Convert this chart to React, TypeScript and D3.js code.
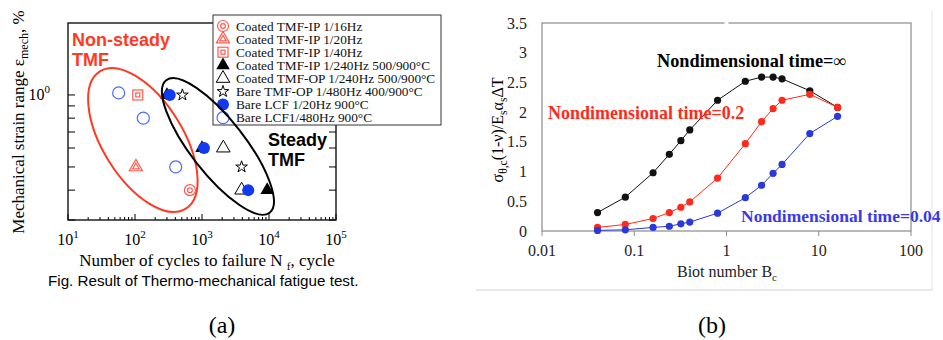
import { useEffect, useRef } from 'react';
import * as d3 from 'd3';

type Pt = [number, number];

// (a) cycles to failure vs mechanical strain range (%)
const coatedIp16: Pt[] = [[660, 0.4]];
const coatedIp20: Pt[] = [[103, 0.5]];
const coatedIp40: Pt[] = [[110, 1.0]];
const coatedIp240: Pt[] = [[300, 1.0], [1000, 0.6], [9400, 0.4]];
const coatedOp240: Pt[] = [[2080, 0.6], [3900, 0.4]];
const bareOp480: Pt[] = [[510, 1.0], [3900, 0.5]];
const bareLcf20: Pt[] = [[330, 1.0], [1070, 0.6], [4900, 0.4]];
const bareLcf480: Pt[] = [[57, 1.02], [133, 0.8], [405, 0.5]];

const cycleDecades = [10, 100, 1000, 10000, 100000];
const strainTicks = [0.3, 0.4, 0.5, 0.6, 0.7, 0.8, 0.9, 1.0];

// ellipse centres (data units)
const nonSteadyCentre: Pt = [131, 0.648];
const steadyCentre: Pt = [1730, 0.609];

// (b) Biot number vs nondimensional stress
const biot = [0.04, 0.08, 0.16, 0.24, 0.32, 0.4, 0.8, 1.6, 2.4, 3.2, 4, 8, 16];
const stressInf = [0.31, 0.57, 0.98, 1.29, 1.52, 1.7, 2.2, 2.52, 2.59, 2.59, 2.56, 2.36, 2.08];
const stress02 = [0.06, 0.11, 0.21, 0.31, 0.4, 0.49, 0.89, 1.47, 1.84, 2.06, 2.2, 2.3, 2.08];
const stress004 = [0.01, 0.02, 0.06, 0.08, 0.12, 0.15, 0.3, 0.56, 0.77, 0.97, 1.12, 1.64, 1.93];
const biotTicks = [0.01, 0.1, 1, 10, 100];
const stressTicks = [0, 0.5, 1, 1.5, 2, 2.5, 3, 3.5];

const RED = '#ff3a22';
const MRED = '#ff5a50';
const BLUE = '#1238f0';
const LBLUE = '#4c6ef0';
const SERIF = '"Liberation Serif", "Times New Roman", serif';
const SANS = '"Liberation Sans", Arial, sans-serif';

type Sel = d3.Selection<SVGGElement, unknown, null, undefined>;

function marker(g: Sel, kind: string, cx: number, cy: number) {
  const m = g.append('g').attr('transform', `translate(${cx},${cy})`);
  const tri = (size: number) => d3.symbol().type(d3.symbolTriangle).size(size)()!;
  switch (kind) {
    case 'dcircle':
      m.append('circle').attr('r', 5.5).attr('fill', 'none').attr('stroke', MRED).attr('stroke-width', 1.2);
      m.append('circle').attr('r', 2.4).attr('fill', 'none').attr('stroke', MRED).attr('stroke-width', 1.2);
      break;
    case 'dtriangle':
      m.append('path').attr('d', tri(75)).attr('fill', 'none').attr('stroke', MRED).attr('stroke-width', 1.2);
      m.append('path').attr('d', tri(18)).attr('fill', 'none').attr('stroke', MRED).attr('stroke-width', 1.2);
      break;
    case 'dsquare':
      m.append('rect').attr('x', -5).attr('y', -5).attr('width', 10).attr('height', 10)
        .attr('fill', 'none').attr('stroke', MRED).attr('stroke-width', 1.2);
      m.append('rect').attr('x', -2).attr('y', -2).attr('width', 4).attr('height', 4)
        .attr('fill', 'none').attr('stroke', MRED).attr('stroke-width', 1.2);
      break;
    case 'triFilled':
      m.append('path').attr('d', tri(80)).attr('fill', '#000');
      break;
    case 'tri':
      m.append('path').attr('d', tri(80)).attr('fill', 'none').attr('stroke', '#000').attr('stroke-width', 1);
      break;
    case 'star':
      m.append('path').attr('d', d3.symbol().type(d3.symbolStar).size(42)()!)
        .attr('fill', 'none').attr('stroke', '#000').attr('stroke-width', 1);
      break;
    case 'circFilled':
      m.append('circle').attr('r', 6).attr('fill', BLUE);
      break;
    default:
      m.append('circle').attr('r', 6).attr('fill', 'none').attr('stroke', LBLUE).attr('stroke-width', 1.2);
  }
}

export default function App() {
  const ref = useRef<SVGSVGElement>(null);

  useEffect(() => {
    if (!ref.current) return;
    const svg = d3.select(ref.current);
    svg.selectAll('*').remove();
    const root = svg.append('g') as Sel;

    // ---------------- panel (a) ----------------
    const x = d3.scaleLog().domain([10, 100000]).range([68, 336]);
    const y = d3.scaleLog().domain([0.3, 2]).range([220, 23]);
    const a = root.append('g') as Sel;

    a.append('rect').attr('x', 68).attr('y', 23).attr('width', 268).attr('height', 197)
      .attr('fill', 'none').attr('stroke', '#000').attr('stroke-width', 1.3);

    // bottom ticks (inward)
    cycleDecades.forEach((d, i) => {
      a.append('line').attr('x1', x(d)).attr('x2', x(d)).attr('y1', 220).attr('y2', 214)
        .attr('stroke', '#000');
      if (i < cycleDecades.length - 1) {
        for (let k = 2; k < 10; k++) {
          a.append('line').attr('x1', x(d * k)).attr('x2', x(d * k)).attr('y1', 220).attr('y2', 217)
            .attr('stroke', '#000');
        }
      }
      const t = a.append('text').attr('x', x(d)).attr('y', 245).attr('text-anchor', 'middle')
        .attr('font-family', SERIF).attr('font-size', 16);
      t.append('tspan').text('10');
      t.append('tspan').attr('dy', -7).attr('font-size', 11).text(String(i + 1));
    });
    strainTicks.forEach((s) => {
      a.append('line').attr('x1', 68).attr('x2', 75).attr('y1', y(s)).attr('y2', y(s)).attr('stroke', '#000');
      a.append('line').attr('x1', 336).attr('x2', 329).attr('y1', y(s)).attr('y2', y(s)).attr('stroke', '#000');
    });
    const yl = a.append('text').attr('x', 50).attr('y', y(1) + 5).attr('text-anchor', 'end')
      .attr('font-family', SERIF).attr('font-size', 16);
    yl.append('tspan').text('10');
    yl.append('tspan').attr('dy', -7).attr('font-size', 11).text('0');

    // markers
    const series: [Pt[], string][] = [
      [coatedIp240, 'triFilled'],
      [coatedOp240, 'tri'],
      [bareLcf20, 'circFilled'],
      [bareOp480, 'star'],
      [bareLcf480, 'circ'],
      [coatedIp40, 'dsquare'],
      [coatedIp20, 'dtriangle'],
      [coatedIp16, 'dcircle'],
    ];
    series.forEach(([pts, kind]) => pts.forEach(([c, s]) => marker(a, kind, x(c), y(s))));

    // legend
    const legend: [string, string][] = [
      ['dcircle', 'Coated TMF-IP 1/16Hz'],
      ['dtriangle', 'Coated TMF-IP 1/20Hz'],
      ['dsquare', 'Coated TMF-IP 1/40Hz'],
      ['triFilled', 'Coated TMF-IP 1/240Hz 500/900°C'],
      ['tri', 'Coated TMF-OP 1/240Hz 500/900°C'],
      ['star', 'Bare TMF-OP 1/480Hz 400/900°C'],
      ['circFilled', 'Bare LCF 1/20Hz 900°C'],
      ['circ', 'Bare LCF1/480Hz 900°C'],
    ];
    a.append('rect').attr('x', 213).attr('y', 15).attr('width', 228).attr('height', 110)
      .attr('fill', '#fff').attr('stroke', '#333').attr('stroke-width', 1);
    legend.forEach(([kind, label], i) => {
      const cy = 26 + i * 13.1;
      marker(a, kind, 223, cy);
      a.append('text').attr('x', 236).attr('y', cy).attr('dy', '0.35em')
        .attr('font-family', SERIF).attr('font-size', 13.3).attr('fill', '#111').text(label);
    });

    // ellipses
    a.append('ellipse').attr('rx', 81).attr('ry', 40)
      .attr('transform', `translate(${x(nonSteadyCentre[0])},${y(nonSteadyCentre[1])}) rotate(58)`)
      .attr('fill', 'none').attr('stroke', RED).attr('stroke-width', 2);
    a.append('ellipse').attr('rx', 84).attr('ry', 27)
      .attr('transform', `translate(${x(steadyCentre[0])},${y(steadyCentre[1])}) rotate(52)`)
      .attr('fill', 'none').attr('stroke', '#000').attr('stroke-width', 2);

    const bold = (t: string, px: number, py: number, fill: string) =>
      a.append('text').attr('x', px).attr('y', py).attr('font-family', SANS).attr('font-weight', 'bold')
        .attr('font-size', 18).attr('fill', fill).text(t);
    bold('Non-steady', 72, 46, RED);
    bold('TMF', 72, 66, RED);
    bold('Steady', 268, 146, '#000');
    bold('TMF', 268, 166, '#000');

    // axis titles
    const ya = a.append('text').attr('transform', 'translate(24,122) rotate(-90)').attr('text-anchor', 'middle')
      .attr('font-family', SERIF).attr('font-size', 17);
    ya.append('tspan').text('Mechanical strain range ε');
    ya.append('tspan').attr('dy', 4).attr('font-size', 12).text('mech');
    ya.append('tspan').attr('dy', -4).text(', %');

    const xa = a.append('text').attr('x', 207).attr('y', 266).attr('text-anchor', 'middle')
      .attr('font-family', SERIF).attr('font-size', 17);
    xa.append('tspan').text('Number of cycles to failure N ');
    xa.append('tspan').attr('dy', 4).attr('font-size', 11).text('f');
    xa.append('tspan').attr('dy', -4).text(', cycle');

    a.append('text').attr('x', 48).attr('y', 286).attr('font-family', SANS).attr('font-size', 15.2)
      .text('Fig. Result of Thermo-mechanical fatigue test.');
    a.append('text').attr('x', 222).attr('y', 333).attr('text-anchor', 'middle')
      .attr('font-family', SERIF).attr('font-size', 24).text('(a)');

    // ---------------- panel (b) ----------------
    const bx = d3.scaleLog().domain([0.01, 100]).range([542, 911]);
    const by = d3.scaleLinear().domain([0, 3.5]).range([231, 23]);
    const b = root.append('g') as Sel;

    b.append('line').attr('x1', 932).attr('x2', 932).attr('y1', 10).attr('y2', 290).attr('stroke', '#e2e2e2');
    b.append('line').attr('x1', 476).attr('x2', 932).attr('y1', 290).attr('y2', 290).attr('stroke', '#d0d0d0');

    b.append('rect').attr('x', 542).attr('y', 23).attr('width', 369).attr('height', 208)
      .attr('fill', 'none').attr('stroke', '#8a8a8a').attr('stroke-width', 1.2);
    b.append('rect').attr('x', bx(1) - 2).attr('y', 21).attr('width', 4).attr('height', 4).attr('fill', '#fff');

    biotTicks.forEach((v) => {
      b.append('line').attr('x1', bx(v)).attr('x2', bx(v)).attr('y1', 231).attr('y2', 236).attr('stroke', '#8a8a8a');
      b.append('text').attr('x', bx(v)).attr('y', 256).attr('text-anchor', 'middle')
        .attr('font-family', SERIF).attr('font-size', 16).attr('fill', '#222').text(String(v));
    });
    stressTicks.forEach((v) => {
      b.append('text').attr('x', 527).attr('y', by(v)).attr('dy', '0.35em').attr('text-anchor', 'end')
        .attr('font-family', SERIF).attr('font-size', 16).attr('fill', '#222').text(String(v));
    });

    const curves: [number[], string][] = [
      [stressInf, '#111'],
      [stress02, '#ff2a1a'],
      [stress004, '#2a3ad8'],
    ];
    curves.forEach(([vals, col]) => {
      const pts = biot.map((bv, i) => [bx(bv), by(vals[i])] as [number, number]);
      b.append('path').attr('d', d3.line()(pts)!).attr('fill', 'none').attr('stroke', col).attr('stroke-width', 1);
      pts.forEach(([px, py]) => b.append('circle').attr('cx', px).attr('cy', py).attr('r', 3.6).attr('fill', col));
    });

    const note = (t: string, px: number, py: number, fill: string, size: number) =>
      b.append('text').attr('x', px).attr('y', py).attr('font-family', SERIF).attr('font-weight', 'bold')
        .attr('font-size', size).attr('fill', fill).text(t);
    note('Nondimensional time=∞', 657, 67, '#000', 18.3);
    note('Nondimensional time=0.2', 548, 119, '#ff2a1a', 18);
    note('Nondimensional time=0.04', 741, 222, '#3a3ae8', 17.5);

    const yb = b.append('text').attr('transform', 'translate(503,130) rotate(-90)').attr('text-anchor', 'middle')
      .attr('font-family', SERIF).attr('font-size', 16);
    yb.append('tspan').text('σ');
    yb.append('tspan').attr('dy', 4).attr('font-size', 11.5).text('θ,c');
    yb.append('tspan').attr('dy', -4).text('(1-ν)/E');
    yb.append('tspan').attr('dy', 4).attr('font-size', 11.5).text('s');
    yb.append('tspan').attr('dy', -4).text('α');
    yb.append('tspan').attr('dy', 4).attr('font-size', 11.5).text('s');
    yb.append('tspan').attr('dy', -4).text('ΔT');

    const xb = b.append('text').attr('x', 727).attr('y', 277).attr('text-anchor', 'middle')
      .attr('font-family', SERIF).attr('font-size', 16).attr('fill', '#222');
    xb.append('tspan').text('Biot number B');
    xb.append('tspan').attr('dy', 4).attr('font-size', 11).text('c');

    b.append('text').attr('x', 712).attr('y', 333).attr('text-anchor', 'middle')
      .attr('font-family', SERIF).attr('font-size', 24).text('(b)');
  }, []);

  return (
    <svg
      ref={ref}
      width={943}
      height={340}
      style={{ position: 'absolute', left: 0, top: 0, background: '#fff' }}
    />
  );
}
